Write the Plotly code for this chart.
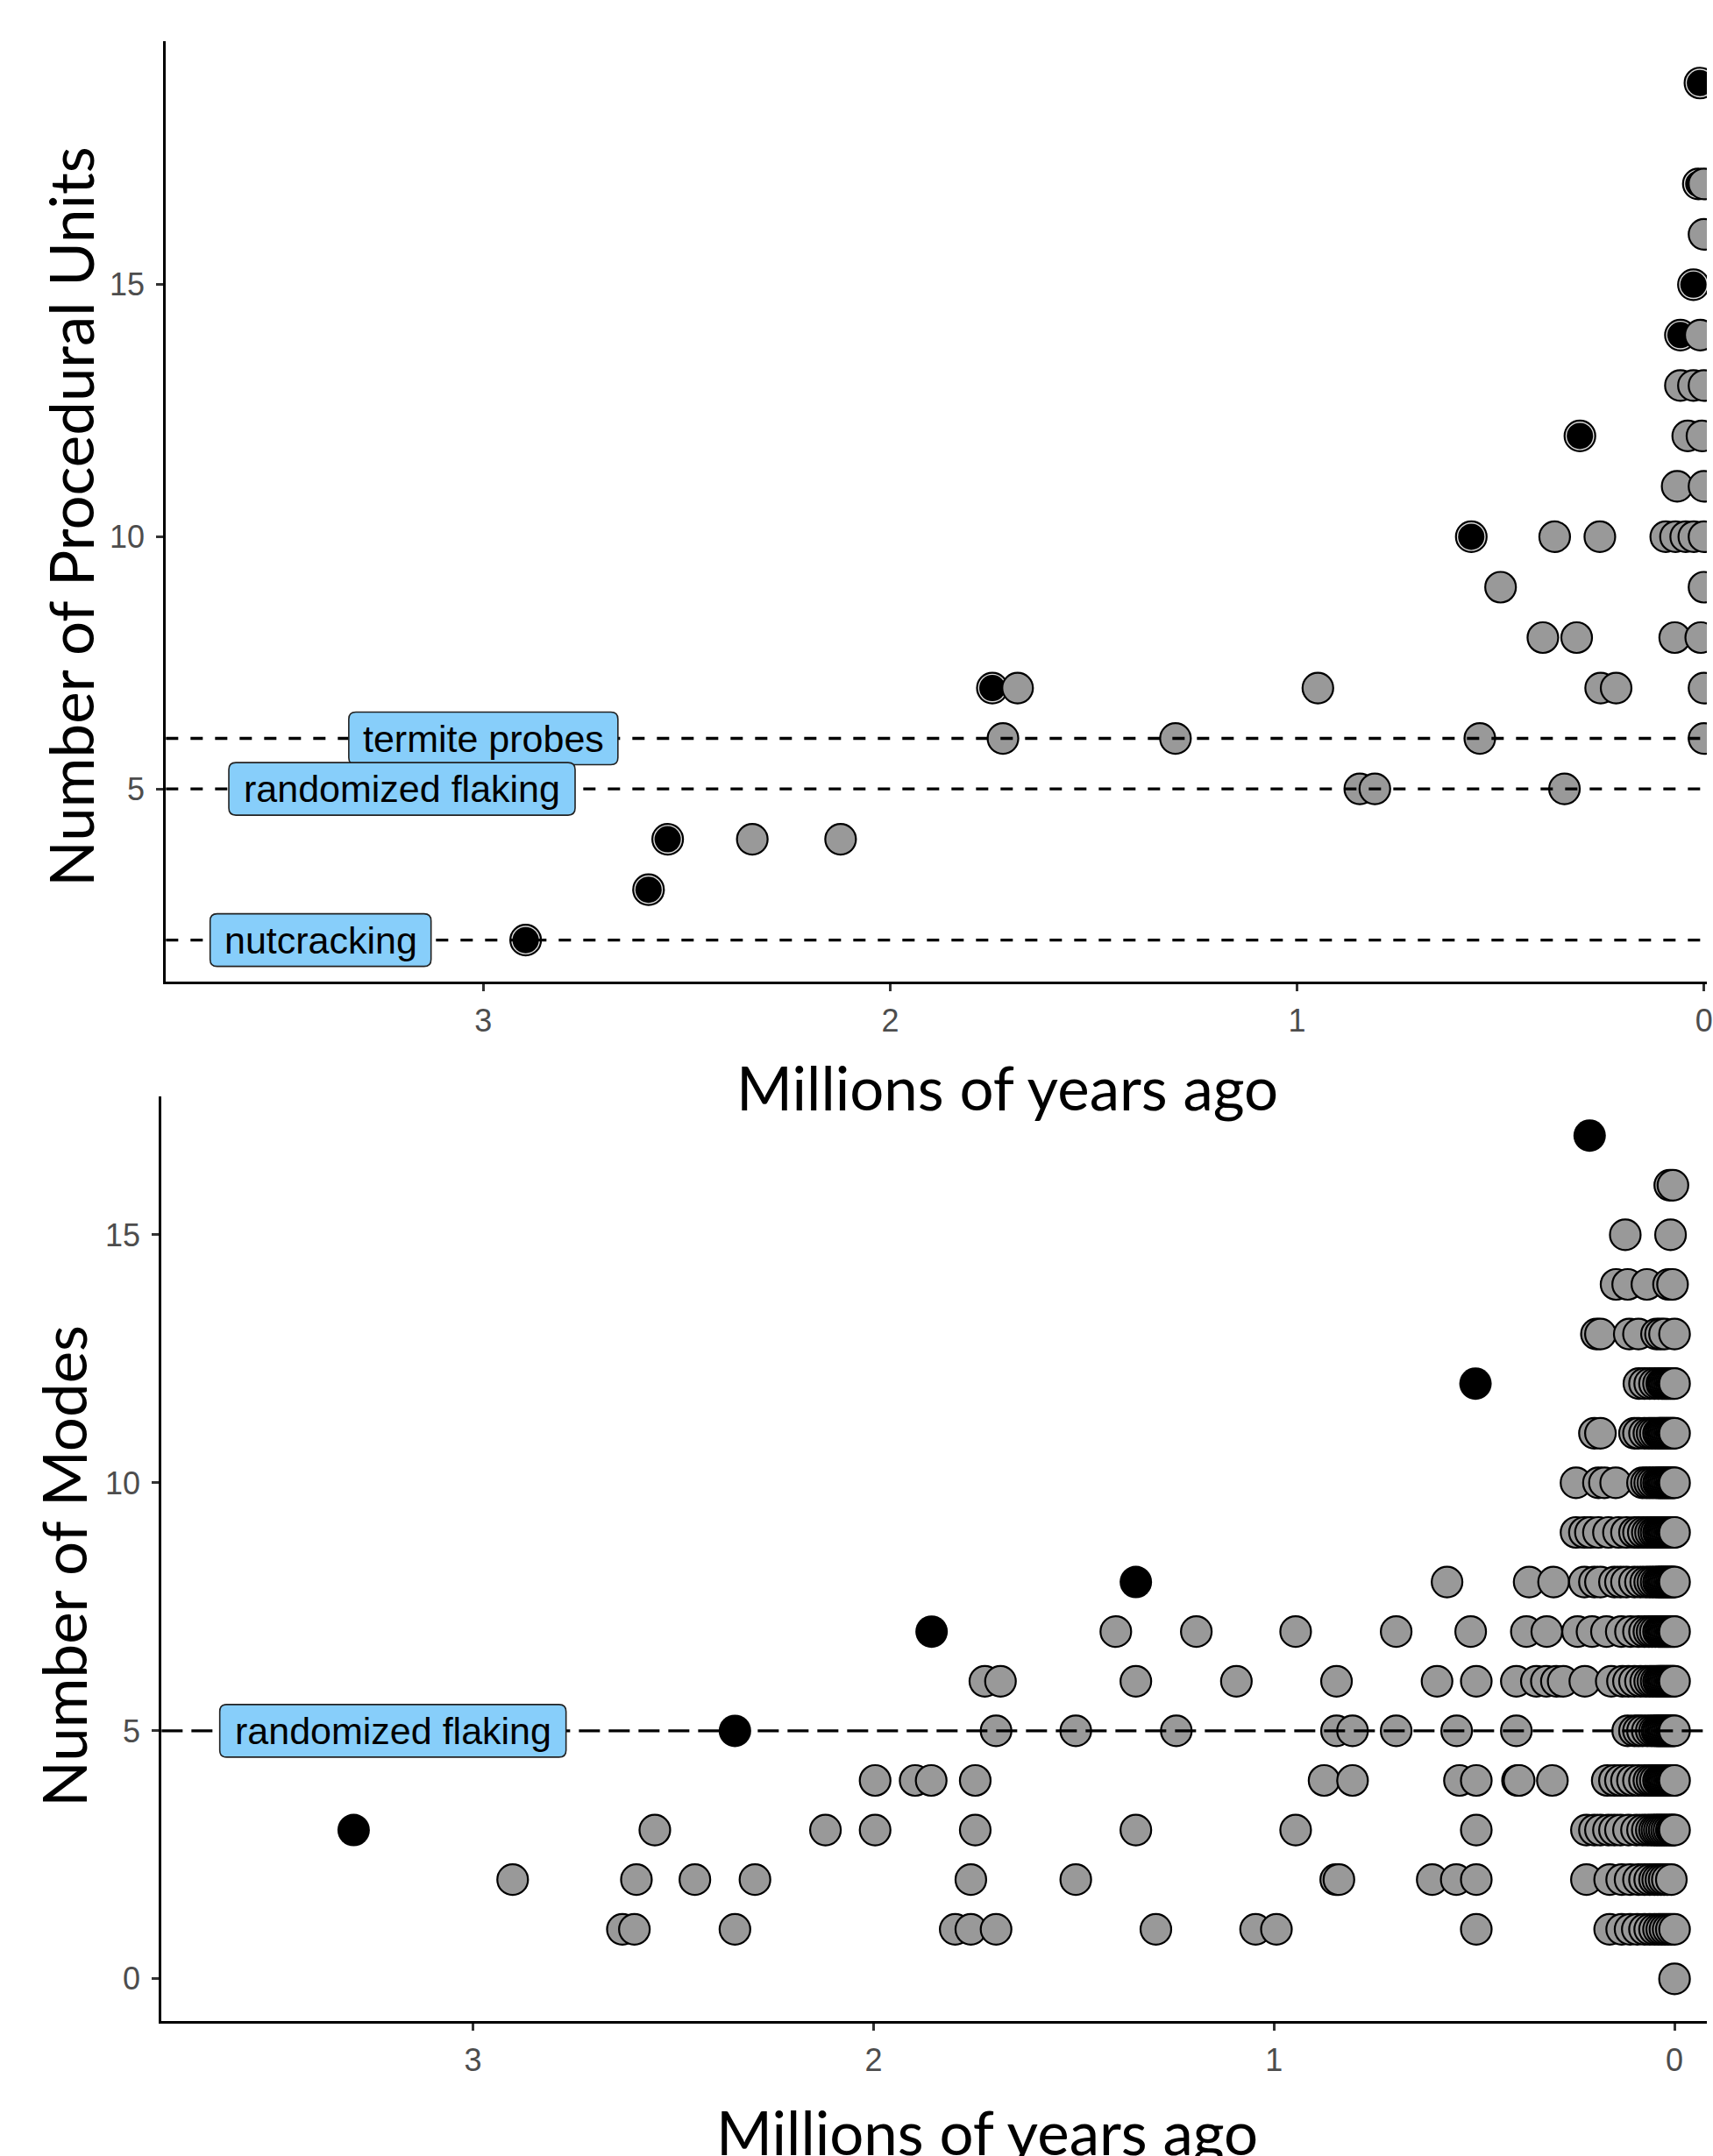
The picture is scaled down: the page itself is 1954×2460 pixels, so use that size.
import plotly.graph_objects as go

# ---------------- Data: top panel (Number of Procedural Units) ----------------
# gray points, one list of x values (millions of years ago) per y value
pu_y = [17, 16, 14, 13, 12, 11, 10, 9, 8, 7, 6, 5, 4]
pu_x17 = [0.0]
pu_x16 = [0.0]
pu_x14 = [0.009]
pu_x13 = [0.058, 0.026, 0.0]
pu_x12 = [0.04, 0.005]
pu_x11 = [0.066, 0.0]
pu_x10 = [0.367, 0.256, 0.094, 0.07, 0.045, 0.025, 0.0]
pu_x9 = [0.5, 0.0]
pu_x8 = [0.396, 0.313, 0.072, 0.008]
pu_x7 = [1.687, 0.949, 0.254, 0.216, 0.0]
pu_x6 = [1.723, 1.299, 0.551, 0.0]
pu_x5 = [0.846, 0.809, 0.343]
pu_x4 = [2.339, 2.122]
pu_rows = [pu_x17, pu_x16, pu_x14, pu_x13, pu_x12, pu_x11, pu_x10,
           pu_x9, pu_x8, pu_x7, pu_x6, pu_x5, pu_x4]

# black points (top)
pu_black_x = [2.896, 2.594, 2.547, 1.749, 0.572, 0.305, 0.058, 0.026, 0.014, 0.01]
pu_black_y = [2, 3, 4, 7, 10, 12, 14, 15, 17, 19]

# reference lines (top)
pu_ref_y = [6, 5, 2]
pu_ref_labels = ["termite probes", "randomized flaking", "nutcracking"]
pu_ref_label_x = [3.0, 3.2, 3.4]

# ---------------- Data: bottom panel (Number of Modes) ----------------
nm_y = list(range(0, 17))
nm_x0 = [0.0]
nm_x1 = [2.627, 2.597, 2.346, 1.796, 1.757, 1.694, 1.295, 1.046, 0.994, 0.495,
         0.162, 0.132, 0.111, 0.093, 0.075, 0.062, 0.05, 0.04, 0.032, 0.024, 0.016, 0.008, 0.0]
nm_x2 = [2.901, 2.592, 2.446, 2.296, 1.757, 1.495, 0.846, 0.838, 0.605, 0.545, 0.495,
         0.22, 0.162, 0.132, 0.111, 0.09, 0.075, 0.062, 0.05, 0.042, 0.034, 0.026, 0.018, 0.008]
nm_x3 = [2.546, 2.12, 1.996, 1.746, 1.345, 0.946, 0.495, 0.22, 0.2, 0.185, 0.165, 0.15,
         0.135, 0.115, 0.095, 0.08, 0.068, 0.058, 0.05, 0.044, 0.038, 0.032, 0.026, 0.02,
         0.014, 0.008, 0.004, 0.0]
nm_x4 = [1.996, 1.896, 1.856, 1.746, 0.875, 0.804, 0.537, 0.495, 0.392, 0.388, 0.305,
         0.168, 0.15, 0.135, 0.12, 0.105, 0.09, 0.075, 0.064, 0.056, 0.048, 0.04, 0.036,
         0.032, 0.028, 0.024, 0.02, 0.016, 0.012, 0.008, 0.004, 0.0]
nm_x5 = [1.694, 1.495, 1.244, 0.844, 0.804, 0.695, 0.544, 0.395, 0.117, 0.1, 0.09, 0.08,
         0.068, 0.058, 0.05, 0.044, 0.04, 0.036, 0.032, 0.028, 0.024, 0.02, 0.016, 0.012,
         0.008, 0.004, 0.0]
nm_x6 = [1.722, 1.683, 1.345, 1.094, 0.844, 0.593, 0.495, 0.395, 0.345, 0.32, 0.295,
         0.278, 0.224, 0.158, 0.13, 0.115, 0.1, 0.085, 0.072, 0.062, 0.054, 0.046, 0.04,
         0.036, 0.032, 0.028, 0.024, 0.02, 0.016, 0.012, 0.008, 0.004, 0.0]
nm_x7 = [1.395, 1.194, 0.946, 0.695, 0.509, 0.37, 0.319, 0.242, 0.206, 0.17, 0.133, 0.11,
         0.09, 0.075, 0.064, 0.056, 0.048, 0.04, 0.036, 0.032, 0.028, 0.024, 0.02, 0.016,
         0.012, 0.008, 0.004, 0.0]
nm_x8 = [0.568, 0.363, 0.302, 0.225, 0.2, 0.185, 0.15, 0.135, 0.12, 0.1, 0.085, 0.072,
         0.062, 0.054, 0.046, 0.04, 0.036, 0.032, 0.028, 0.024, 0.02, 0.016, 0.012, 0.008,
         0.004, 0.0]
nm_x9 = [0.246, 0.225, 0.21, 0.19, 0.165, 0.14, 0.12, 0.1, 0.09, 0.078, 0.068, 0.06, 0.052,
         0.046, 0.04, 0.036, 0.032, 0.028, 0.024, 0.02, 0.016, 0.012, 0.008, 0.004, 0.0]
nm_x10 = [0.246, 0.19, 0.175, 0.147, 0.08, 0.07, 0.062, 0.054, 0.046, 0.04, 0.036, 0.032,
          0.028, 0.024, 0.02, 0.016, 0.012, 0.008, 0.004, 0.0]
nm_x11 = [0.2, 0.185, 0.1, 0.09, 0.075, 0.064, 0.056, 0.048, 0.04, 0.036, 0.032, 0.028,
          0.024, 0.02, 0.016, 0.012, 0.008, 0.004, 0.0]
nm_x12 = [0.089, 0.075, 0.062, 0.05, 0.04, 0.032, 0.028, 0.024, 0.02, 0.016, 0.012,
          0.008, 0.004, 0.0]
nm_x13 = [0.195, 0.185, 0.113, 0.09, 0.045, 0.035, 0.025, 0.0]
nm_x14 = [0.146, 0.117, 0.069, 0.015, 0.005]
nm_x15 = [0.123, 0.01]
nm_x16 = [0.012, 0.004]
nm_rows = [nm_x0, nm_x1, nm_x2, nm_x3, nm_x4, nm_x5, nm_x6, nm_x7, nm_x8, nm_x9,
           nm_x10, nm_x11, nm_x12, nm_x13, nm_x14, nm_x15, nm_x16]

# black points (bottom)
nm_black_x = [3.298, 2.346, 1.855, 1.345, 0.497, 0.212]
nm_black_y = [3, 5, 7, 8, 12, 17]

nm_ref_y = [5]
nm_ref_labels = ["randomized flaking"]
nm_ref_label_x = [3.2]

x_ticks = [0, 1, 2, 3]
pu_y_ticks = [5, 10, 15]
nm_y_ticks = [0, 5, 10, 15]


def flatten(rows, ys):
    pts = []
    for y, xs in zip(ys, rows):
        for x in xs:
            pts.append((x, y))
    # draw older (left) first so that points to the right sit on top
    pts.sort(key=lambda p: -p[0])
    return [p[0] for p in pts], [p[1] for p in pts]


pu_gx, pu_gy = flatten(pu_rows, pu_y)
nm_gx, nm_gy = flatten(nm_rows, nm_y)

W, H = 1954, 2460
GRAY = "#999999"
MS = 35

fig = go.Figure()

# top panel
fig.add_trace(go.Scatter(x=pu_black_x, y=pu_black_y, mode="markers", xaxis="x", yaxis="y",
                         marker=dict(size=MS, color="#dcdcdc", line=dict(color="black", width=2.2)),
                         hoverinfo="skip"))
fig.add_trace(go.Scatter(x=pu_black_x, y=pu_black_y, mode="markers", xaxis="x", yaxis="y",
                         marker=dict(size=MS - 5, color="black", line=dict(width=0))))
fig.add_trace(go.Scatter(x=pu_gx, y=pu_gy, mode="markers", xaxis="x", yaxis="y",
                         marker=dict(size=MS, color=GRAY, line=dict(color="black", width=2.2))))

# bottom panel
fig.add_trace(go.Scatter(x=nm_gx, y=nm_gy, mode="markers", xaxis="x2", yaxis="y2",
                         marker=dict(size=MS, color=GRAY, line=dict(color="black", width=2.2))))
fig.add_trace(go.Scatter(x=nm_black_x, y=nm_black_y, mode="markers", xaxis="x2", yaxis="y2",
                         marker=dict(size=MS + 2, color="black", line=dict(color="black", width=0))))

tickfont = dict(family="Liberation Sans, Arial, sans-serif", size=36, color="#4d4d4d")
common_axis = dict(showline=True, linecolor="black", linewidth=3, ticks="outside",
                   ticklen=8, tickwidth=2.5, tickcolor="#333333", showgrid=False,
                   zeroline=False, tickfont=tickfont, mirror=False,
                   ticklabeloverflow="allow")

fig.update_layout(
    width=W, height=H,
    margin=dict(l=0, r=0, t=0, b=0),
    paper_bgcolor="white", plot_bgcolor="white",
    showlegend=False,
    xaxis=dict(domain=[190 / W, 1], range=[3.78, -0.007], anchor="y",
               tickvals=x_ticks, ticktext=[str(v) for v in x_ticks],
               ticklabelstandoff=3, **common_axis),
    yaxis=dict(domain=[1 - 1120 / H, 1 - 47 / H], range=[1.177, 19.83], anchor="x",
               tickvals=pu_y_ticks, ticklabelstandoff=6, **common_axis),
    xaxis2=dict(domain=[185 / W, 1], range=[3.7775, -0.0807], anchor="y2",
                tickvals=x_ticks, ticktext=[str(v) for v in x_ticks],
                ticklabelstandoff=3, **common_axis),
    yaxis2=dict(domain=[1 - 2306 / H, 1 - 1251 / H], range=[-0.85, 17.79], anchor="x2",
                tickvals=nm_y_ticks, ticklabelstandoff=6, **common_axis),
)

label_font = dict(family="Liberation Sans, Arial, sans-serif", size=43, color="black")
label_box_w = {"termite probes": 307, "randomized flaking": 395, "nutcracking": 252}
BOX_H = 60
RAD = 8


def rounded_box(w, h, r):
    a, b = w / 2, h / 2
    return (f"M {-a + r},{-b} L {a - r},{-b} Q {a},{-b} {a},{-b + r} "
            f"L {a},{b - r} Q {a},{b} {a - r},{b} L {-a + r},{b} Q {-a},{b} {-a},{b - r} "
            f"L {-a},{-b + r} Q {-a},{-b} {-a + r},{-b} Z")


shapes = []
annotations = []


def add_ref(xaxis, yaxis, yv, lab, lx, dash):
    shapes.append(dict(type="line", xref=f"{xaxis} domain", yref=yaxis, x0=0, x1=1,
                       y0=yv, y1=yv, line=dict(color="black", width=3.4, dash=dash),
                       layer="above"))
    shapes.append(dict(type="path", xref=xaxis, yref=yaxis, xsizemode="pixel",
                       ysizemode="pixel", xanchor=lx, yanchor=yv,
                       path=rounded_box(label_box_w[lab], BOX_H, RAD),
                       fillcolor="#87CEFA", line=dict(color="#222222", width=1.6),
                       layer="above"))
    annotations.append(dict(x=lx, y=yv, xref=xaxis, yref=yaxis, text=lab, showarrow=False,
                            font=label_font, xanchor="center", yanchor="middle"))


for yv, lab, lx in zip(pu_ref_y, pu_ref_labels, pu_ref_label_x):
    add_ref("x", "y", yv, lab, lx, "14px,14px")
for yv, lab, lx in zip(nm_ref_y, nm_ref_labels, nm_ref_label_x):
    add_ref("x2", "y2", yv, lab, lx, "24px,10px")

title_font = dict(family="Lato, Carlito, sans-serif", size=69, color="black")
annotations += [
    dict(text="Millions of years ago", xref="paper", yref="paper", x=1153 / W, y=1 - 1240 / H,
         showarrow=False, font=title_font, xanchor="center", yanchor="middle"),
    dict(text="Millions of years ago", xref="paper", yref="paper", x=1130 / W, y=1 - 2432 / H,
         showarrow=False, font=title_font, xanchor="center", yanchor="middle"),
    dict(text="Number of Procedural Units", xref="paper", yref="paper", x=80 / W, y=1 - 590 / H,
         showarrow=False, font=title_font, textangle=-90, xanchor="center", yanchor="middle"),
    dict(text="Number of Modes", xref="paper", yref="paper", x=72 / W, y=1 - 1787 / H,
         showarrow=False, font=title_font, textangle=-90, xanchor="center", yanchor="middle"),
]

fig.update_layout(shapes=shapes, annotations=annotations)
fig.write_html("out.html", config={"displayModeBar": False},
               post_script="document.body.style.margin='0';document.body.style.overflow='hidden';")
